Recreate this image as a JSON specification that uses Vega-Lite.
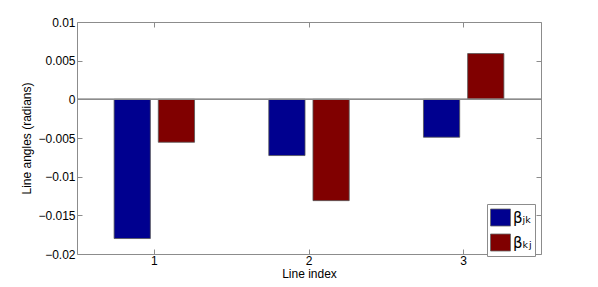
{
  "$schema": "https://vega.github.io/schema/vega-lite/v6.json",
  "width": 464,
  "height": 232,
  "autosize": {"type": "none"},
  "padding": {"left": 77, "top": 22, "right": 57, "bottom": 33},
  "background": "white",
  "config": {
    "font": "Liberation Sans",
    "view": {"stroke": "#8c8c8c", "strokeWidth": 1},
    "axis": {
      "grid": false,
      "domain": false,
      "tickColor": "#8c8c8c",
      "tickSize": -5,
      "labelFontSize": 12,
      "labelColor": "#000",
      "titleFontSize": 12,
      "titleFontWeight": "normal",
      "titleColor": "#000"
    },
    "legend": {
      "orient": "none",
      "legendX": 410,
      "legendY": 182,
      "strokeColor": "#8c8c8c",
      "fillColor": "white",
      "padding": 3,
      "symbolType": "M-1,-0.85H1V0.85H-1Z",
      "symbolSize": 400,
      "symbolStrokeColor": "#666",
      "symbolStrokeWidth": 0.8,
      "labelFontSize": 15,
      "labelFont": "DejaVu Sans",
      "labelOffset": 2,
      "rowPadding": 4
    }
  },
  "data": {
    "values": [
      {"line": "1", "series": "βⱼₖ", "angle": -0.0180},
      {"line": "1", "series": "βₖⱼ", "angle": -0.00555},
      {"line": "2", "series": "βⱼₖ", "angle": -0.00727},
      {"line": "2", "series": "βₖⱼ", "angle": -0.0131},
      {"line": "3", "series": "βⱼₖ", "angle": -0.0049},
      {"line": "3", "series": "βₖⱼ", "angle": 0.00592}
    ]
  },
  "resolve": {"axis": {"x": "independent", "y": "independent"}},
  "layer": [
    {
      "mark": {"type": "bar", "stroke": "#555", "strokeWidth": 0.8},
      "encoding": {
        "x": {
          "field": "line",
          "type": "ordinal",
          "scale": {"paddingInner": 0.48, "paddingOuter": 0.24},
          "axis": {"title": "Line index", "labelAngle": 0, "labelPadding": 6, "titlePadding": 2}
        },
        "xOffset": {
          "field": "series",
          "type": "nominal",
          "sort": ["βⱼₖ", "βₖⱼ"],
          "scale": {"domain": ["βⱼₖ", "βₖⱼ"], "paddingInner": 0.18, "paddingOuter": 0}
        },
        "y": {
          "field": "angle",
          "type": "quantitative",
          "scale": {"domain": [-0.02, 0.01], "nice": false, "zero": true},
          "axis": {
            "title": "Line angles (radians)",
            "values": [-0.02, -0.015, -0.01, -0.005, 0, 0.005, 0.01],
            "format": "~g",
            "labelPadding": 7,
            "titlePadding": 4
          }
        },
        "color": {
          "field": "series",
          "type": "nominal",
          "scale": {"domain": ["βⱼₖ", "βₖⱼ"], "range": ["#00008F", "#800000"]},
          "legend": {"title": null}
        }
      }
    },
    {
      "mark": {"type": "rule", "color": "#8c8c8c", "strokeWidth": 1},
      "encoding": {"y": {"datum": 0, "type": "quantitative", "axis": null}}
    },
    {
      "mark": {"type": "point", "opacity": 0},
      "encoding": {
        "x": {"field": "line", "type": "ordinal", "axis": {"orient": "top", "labels": false, "title": null}},
        "y": {
          "field": "angle",
          "type": "quantitative",
          "axis": {"orient": "right", "labels": false, "title": null, "values": [-0.02, -0.015, -0.01, -0.005, 0, 0.005, 0.01]}
        }
      }
    }
  ]
}
